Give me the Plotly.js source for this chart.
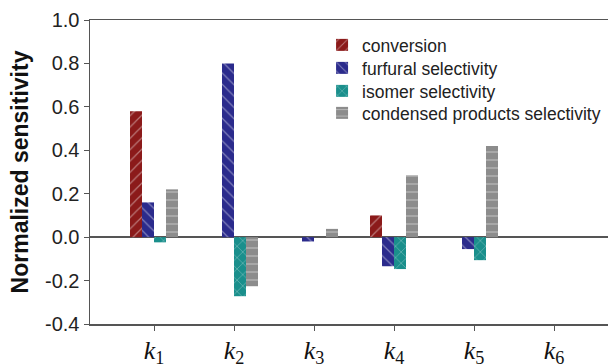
<!DOCTYPE html>
<html>
<head>
<meta charset="utf-8">
<script src="https://cdn.plot.ly/plotly-3.0.1.min.js"></script>
<style>html,body{margin:0;padding:0;background:#fff;}#chart{width:608px;height:364px;}</style>
</head>
<body>
<div id="chart"></div>
<script>
const categories = ["k1", "k2", "k3", "k4", "k5", "k6"];
const tickLabels = ["<i>k</i><sub>1</sub>", "<i>k</i><sub>2</sub>", "<i>k</i><sub>3</sub>", "<i>k</i><sub>4</sub>", "<i>k</i><sub>5</sub>", "<i>k</i><sub>6</sub>"];
const yTickVals = [-0.4, -0.2, 0.0, 0.2, 0.4, 0.6, 0.8, 1.0];
const yTickText = ["-0.4", "-0.2", "0.0", "0.2", "0.4", "0.6", "0.8", "1.0"];
const seriesNames = ["conversion", "furfural selectivity", "isomer selectivity", "condensed products selectivity"];
const conversion = [0.58, 0.0, 0.0, 0.10, 0.0, 0.0];
const furfural = [0.16, 0.80, -0.02, -0.134, -0.055, 0.0];
const isomer = [-0.024, -0.272, 0.0, -0.147, -0.106, 0.0];
const condensed = [0.22, -0.226, 0.038, 0.285, 0.42, 0.0];

const colors = ["#8b1a1a", "#2b2b8c", "#1a8f8c", "#8c8c8c"];
const shapes = ["/", "\\", "x", "-"];
const values = [conversion, furfural, isomer, condensed];
const legendIds = ["legend", "legend2", "legend3", "legend4"];
const legendRowPx = [45, 68, 91, 113];

const traces = values.map((v, i) => ({
  type: "bar",
  name: seriesNames[i],
  x: categories,
  y: v,
  legend: legendIds[i],
  marker: {
    color: colors[i],
    line: {width: 0},
    pattern: {shape: shapes[i], fgcolor: "rgba(255,255,255,0.4)", bgcolor: colors[i], size: 8, solidity: 0.15}
  }
}));

const layout = {
  width: 608, height: 364,
  margin: {l: 90, r: 0, t: 20, b: 40},
  paper_bgcolor: "#fff", plot_bgcolor: "#fff",
  barmode: "group", bargap: 0.4, bargroupgap: 0,
  font: {family: "Liberation Sans, Arial, sans-serif", color: "#222"},
  showlegend: true,
  xaxis: {
    range: [-0.8, 5.675], tickmode: "array", tickvals: categories, ticktext: tickLabels,
    showline: true, linecolor: "#555", linewidth: 1.5, mirror: true,
    ticks: "outside", ticklen: 5, tickcolor: "#555", showgrid: false,
    ticklabelstandoff: -3,
    tickfont: {family: "Liberation Serif, Times New Roman, serif", size: 26, color: "#111"}
  },
  yaxis: {
    range: [-0.4, 1.0], tickmode: "array", tickvals: yTickVals, ticktext: yTickText,
    showline: true, linecolor: "#555", linewidth: 1.5,
    ticks: "outside", ticklen: 5, tickcolor: "#555", showgrid: false,
    zeroline: true, zerolinecolor: "#555", zerolinewidth: 1.5,
    tickfont: {size: 20, color: "#222"},
    title: {text: "<b>Normalized sensitivity</b>", font: {size: 23, color: "#111"}, standoff: 10}
  }
};

legendIds.forEach((id, i) => {
  layout[id] = {
    x: 0.448, y: 1 - (legendRowPx[i] - 20) / 304, xanchor: "left", yanchor: "middle",
    bgcolor: "rgba(0,0,0,0)", font: {size: 17.5, color: "#222"}
  };
});

Plotly.newPlot("chart", traces, layout, {displayModeBar: false, staticPlot: true});
</script>
</body>
</html>
